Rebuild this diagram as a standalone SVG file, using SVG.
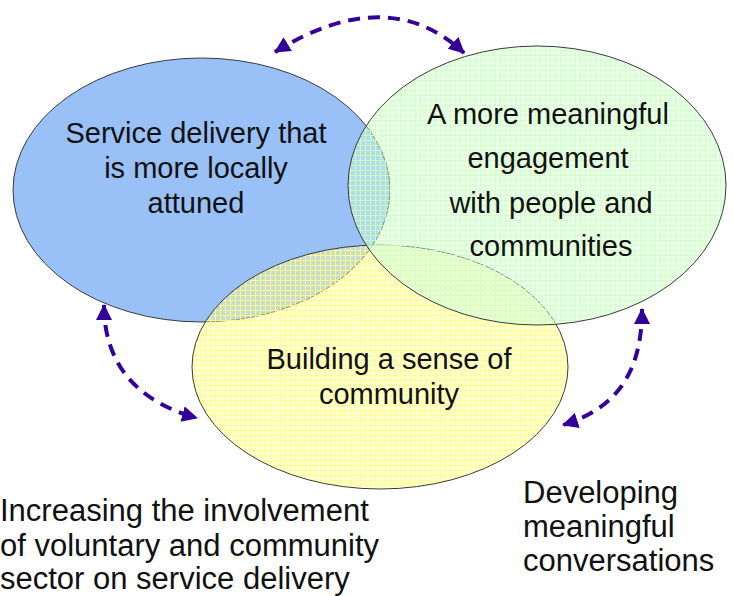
<svg xmlns="http://www.w3.org/2000/svg" width="734" height="596" viewBox="0 0 734 596">
<style>
.t{font-family:"Liberation Sans",Arial,sans-serif;font-size:29px;fill:#111;text-anchor:middle}
.b{font-family:"Liberation Sans",Arial,sans-serif;font-size:31px;fill:#111}
.e{stroke:#3a3a3a;stroke-width:1}
.arr{fill:none;stroke:#330099;stroke-width:4;stroke-dasharray:12 8;marker-start:url(#ah);marker-end:url(#ah)}
</style>
<defs>
<marker id="ah" markerUnits="userSpaceOnUse" markerWidth="16" markerHeight="16" viewBox="0 0 16 16" refX="15" refY="8" orient="auto-start-reverse">
<path d="M0,0 L16,8 L0,16 z" fill="#330099"/>
</marker>
<pattern id="py" width="5" height="5" patternUnits="userSpaceOnUse">
<rect width="5" height="5" fill="#ffff99" fill-opacity="0.45"/>
<path d="M0,0.5 H5 M0.5,0 V5" stroke="#ffff88" stroke-opacity="0.85" stroke-width="1"/>
</pattern>
<pattern id="pg" width="5" height="5" patternUnits="userSpaceOnUse">
<rect width="5" height="5" fill="#d0ffd0" fill-opacity="0.45"/>
<path d="M0,0.5 H5 M0.5,0 V5" stroke="#d0ffc0" stroke-opacity="0.8" stroke-width="1"/>
</pattern>
</defs>
<rect width="734" height="596" fill="#ffffff"/>
<g id="blue">
<ellipse class="e" cx="201.5" cy="190" rx="188.5" ry="132" fill="#99c0f7"/>
</g>
<g id="yellow">
<ellipse class="e" cx="380" cy="367" rx="188" ry="122" fill="url(#py)"/>
</g>
<g id="green">
<ellipse class="e" cx="537" cy="185.5" rx="189" ry="139.5" fill="url(#pg)"/>
</g>
<g id="blue-text">
<text class="t" x="196" y="143">Service delivery that</text>
<text class="t" x="196" y="178">is more locally</text>
<text class="t" x="196" y="213">attuned</text>
</g>
<g id="green-text">
<text class="t" x="548" y="124">A more meaningful</text>
<text class="t" x="548" y="168">engagement</text>
<text class="t" x="551" y="213">with people and</text>
<text class="t" x="551" y="256">communities</text>
</g>
<g id="yellow-text">
<text class="t" x="389" y="369">Building a sense of</text>
<text class="t" x="389" y="404">community</text>
</g>
<g id="connectors">
<path class="arr" d="M275,52 Q388,-18 464,53"/>
<path class="arr" d="M104,305 C104,375 150,405 197,418"/>
<path class="arr" d="M642,309 C642,380 610,410 563,425"/>
</g>
<g id="label-left">
<text class="b" x="0" y="521">Increasing the involvement</text>
<text class="b" x="0" y="556">of voluntary and community</text>
<text class="b" x="0" y="589">sector on service delivery</text>
</g>
<g id="label-right">
<text class="b" x="523" y="503">Developing</text>
<text class="b" x="523" y="537">meaningful</text>
<text class="b" x="523" y="571">conversations</text>
</g>
</svg>
